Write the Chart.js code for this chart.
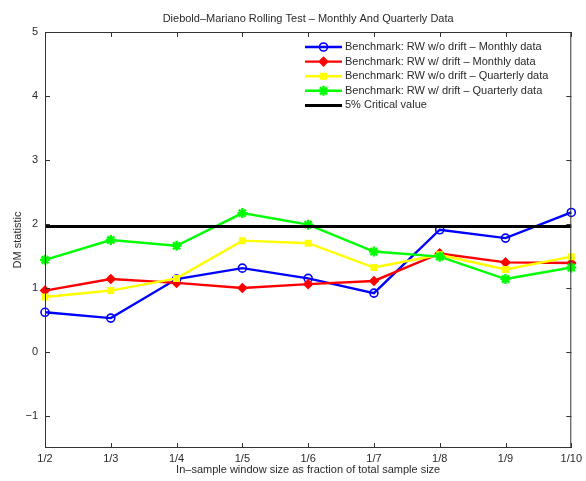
<!DOCTYPE html>
<html>
<head>
<meta charset="utf-8">
<script src="https://cdn.jsdelivr.net/npm/chart.js@4/dist/chart.umd.min.js"></script>
<style>
  body { margin: 0; background: #fff; }
  canvas { display: block; }
</style>
</head>
<body>
<canvas id="dm-chart" width="586" height="481"></canvas>
<script>
// Window sizes (fraction of total sample)
const windowLabels = ['1/2', '1/3', '1/4', '1/5', '1/6', '1/7', '1/8', '1/9', '1/10'];

// DM statistics
const rwNoDriftMonthly   = [0.62, 0.53, 1.14, 1.31, 1.15, 0.92, 1.91, 1.78, 2.18];
const rwDriftMonthly     = [0.96, 1.14, 1.08, 1.00, 1.06, 1.11, 1.54, 1.40, 1.39];
const rwNoDriftQuarterly = [0.86, 0.96, 1.15, 1.74, 1.70, 1.32, 1.52, 1.29, 1.49];
const rwDriftQuarterly   = [1.44, 1.75, 1.66, 2.17, 1.99, 1.57, 1.49, 1.14, 1.32];
const criticalValue = 1.96;

const yTicks = [-1, 0, 1, 2, 3, 4, 5];

const FONT = 'Liberation Sans, Arial, Helvetica, sans-serif';
const TEXT_COLOR = '#2a2a2a';

function series(label, data, color, style, radius, order) {
    return {
        label: label,
        data: data,
        borderColor: color,
        backgroundColor: color,
        borderWidth: 2.4,
        pointStyle: style,
        pointRadius: radius,
        pointBorderWidth: 1.6,
        pointBackgroundColor: style === 'circle' ? 'rgba(0,0,0,0)' : color,
        pointBorderColor: color,
        tension: 0,
        order: order
    };
}

const datasets = [
    series('Benchmark: RW w/o drift \u2013 Monthly data', rwNoDriftMonthly, '#0000ff', 'circle', 4, 5),
    series('Benchmark: RW w/ drift \u2013 Monthly data', rwDriftMonthly, '#ff0000', 'rectRot', 4.2, 4),
    series('Benchmark: RW w/o drift \u2013 Quarterly data', rwNoDriftQuarterly, '#ffff00', 'rect', 3.8, 3),
    series('Benchmark: RW w/ drift \u2013 Quarterly data', rwDriftQuarterly, '#00ff00', 'star', 5, 2),
    {
        label: '5% Critical value',
        data: windowLabels.map(() => criticalValue),
        borderColor: '#000',
        backgroundColor: '#000',
        borderWidth: 3,
        pointRadius: 0,
        order: 1
    }
];
datasets[3].pointBorderWidth = 2.4;

// Box, inward ticks, title and legend drawn MATLAB-style
const matlabDecor = {
    id: 'matlabDecor',
    afterDraw(chart) {
        const ctx = chart.ctx;
        const area = chart.chartArea;
        const xs = chart.scales.x;
        const ys = chart.scales.y;
        const tick = 5;

        ctx.save();
        ctx.strokeStyle = '#333';
        ctx.lineWidth = 1;
        ctx.strokeRect(area.left + 0.5, area.top + 0.5, area.right - area.left - 1, area.bottom - area.top - 1);

        ctx.beginPath();
        windowLabels.forEach((_, i) => {
            const px = Math.round(xs.getPixelForValue(i)) + 0.5;
            ctx.moveTo(px, area.bottom); ctx.lineTo(px, area.bottom - tick);
            ctx.moveTo(px, area.top); ctx.lineTo(px, area.top + tick);
        });
        yTicks.forEach(v => {
            const py = Math.round(ys.getPixelForValue(v)) + 0.5;
            ctx.moveTo(area.left, py); ctx.lineTo(area.left + tick, py);
            ctx.moveTo(area.right, py); ctx.lineTo(area.right - tick, py);
        });
        ctx.stroke();

        // title
        ctx.fillStyle = TEXT_COLOR;
        ctx.font = '11px ' + FONT;
        ctx.textAlign = 'center';
        ctx.textBaseline = 'middle';
        ctx.fillText('Diebold\u2013Mariano Rolling Test \u2013 Monthly And Quarterly Data',
            (area.left + area.right) / 2, 19);

        // legend
        const lx0 = 305, lx1 = 342, ly0 = 47, step = 14.6;
        ctx.textAlign = 'left';
        chart.data.datasets.forEach((ds, i) => {
            const y = ly0 + i * step;
            ctx.strokeStyle = ds.borderColor;
            ctx.lineWidth = ds.borderWidth;
            ctx.beginPath();
            ctx.moveTo(lx0, y); ctx.lineTo(lx1, y);
            ctx.stroke();
            if (ds.pointRadius > 0) {
                ctx.fillStyle = ds.pointBackgroundColor;
                ctx.strokeStyle = ds.pointBorderColor;
                ctx.lineWidth = ds.pointBorderWidth;
                Chart.helpers.drawPoint(ctx, {
                    pointStyle: ds.pointStyle,
                    radius: ds.pointRadius,
                    borderWidth: ds.pointBorderWidth,
                    rotation: 0
                }, (lx0 + lx1) / 2, y);
            }
            ctx.fillStyle = TEXT_COLOR;
            ctx.fillText(ds.label, 345, y);
        });
        ctx.restore();
    }
};

new Chart(document.getElementById('dm-chart'), {
    type: 'line',
    data: { labels: windowLabels, datasets: datasets },
    options: {
        responsive: false,
        animation: false,
        devicePixelRatio: 1,
        layout: { padding: { top: 32, right: 12, left: 0, bottom: 0 } },
        plugins: {
            legend: { display: false },
            title: { display: false },
            tooltip: { enabled: false }
        },
        scales: {
            x: {
                type: 'category',
                offset: false,
                grid: { display: false, drawTicks: false },
                border: { display: false },
                ticks: {
                    color: TEXT_COLOR,
                    font: { family: FONT, size: 11 },
                    padding: 4,
                    maxRotation: 0,
                    autoSkip: false
                },
                title: {
                    display: true,
                    text: 'In\u2013sample window size as fraction of total sample size',
                    color: TEXT_COLOR,
                    font: { family: FONT, size: 11 },
                    padding: { top: 0, bottom: 4 }
                },
                afterFit(scale) { scale.height = 33; }
            },
            y: {
                min: -1.5,
                max: 5,
                grid: { display: false, drawTicks: false },
                border: { display: false },
                afterBuildTicks(scale) {
                    scale.ticks = yTicks.map(v => ({ value: v }));
                },
                ticks: {
                    color: TEXT_COLOR,
                    font: { family: FONT, size: 11 },
                    padding: 7,
                    callback: v => (v < 0 ? '\u2212' + Math.abs(v) : String(v))
                },
                title: {
                    display: true,
                    text: 'DM statistic',
                    color: TEXT_COLOR,
                    font: { family: FONT, size: 11 },
                    padding: { top: 11, bottom: 0 }
                },
                afterFit(scale) { scale.width = 45; }
            }
        }
    },
    plugins: [matlabDecor]
});
</script>
</body>
</html>
